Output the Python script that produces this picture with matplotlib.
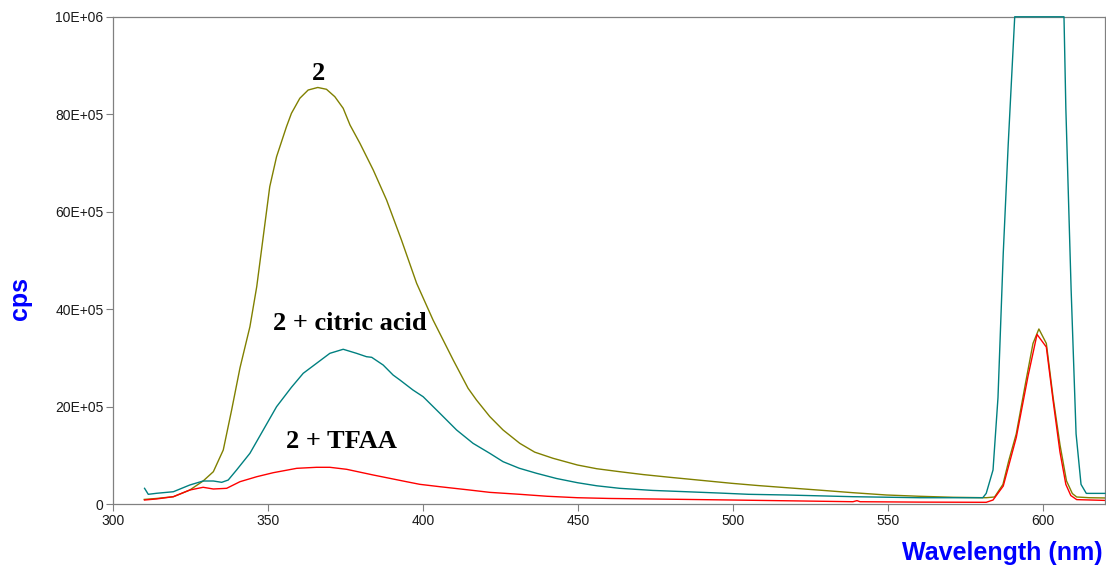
import matplotlib

matplotlib.use("Agg")
import matplotlib.pyplot as plt

# emission spectra (wavelength in nm, intensity in cps)
wl_2 = [310, 314, 319.4, 324.7, 329, 332.3, 335.5, 338.2, 340.9, 344.1, 346.3, 348.4,
        350.5, 352.7, 355.9, 357.5, 360.2, 362.9, 366.0, 368.8, 371.5, 374.2, 376.4,
        379.6, 383.9, 388.2, 393.0, 397.9, 403.2, 409.7, 414.5, 417.2, 421.5, 425.8,
        431.2, 436, 441.9, 449.8, 456, 463.4, 471, 479.6, 490, 499.5, 508, 517.2, 528,
        538.7, 549.5, 560, 571, 581.7, 584.4, 587.1, 589, 591.4, 594.6, 596.8, 598.7,
        601.1, 603.3, 605.5, 607.6, 609.5, 610.9, 615, 620]
cps_2 = [10000, 12000, 15600, 29300, 47800, 66900, 111400, 193400, 280000, 364300,
         446400, 549000, 651500, 713000, 774600, 802000, 832800, 849800, 855000, 851300,
         836100, 812300, 778000, 740500, 685700, 624200, 542200, 453300, 378000, 296000,
         238000, 214000, 180000, 152400, 125000, 107000, 94400, 80600, 73000, 66900,
         61000, 55400, 49000, 43100, 38500, 34100, 29000, 23800, 19100, 16500, 14400,
         13500, 15000, 40800, 90000, 144600, 255800, 330000, 359600, 330000, 218700,
         122400, 48200, 22000, 15000, 13500, 13000]

wl_citric = [310.1, 311.3, 314, 319.4, 324.7, 329, 332.3, 335, 337.1, 339.8, 344.1,
             348.4, 352.7, 357.5, 361.3, 365.6, 369.9, 374.2, 378.5, 381.7, 383.4,
             387.1, 390.3, 392.5, 396.7, 400, 405.4, 410.8, 416.1, 421.5, 425.8, 431,
             436.6, 443, 449.8, 456, 463.4, 474, 484.9, 496, 505, 517.2, 538.7, 560.2,
             580.6, 581.7, 583.9, 585.5, 587.2, 588.8, 590.9, 606.8, 607.4, 609.1,
             610.7, 612.3, 614, 620]
cps_citric = [32800, 20500, 22600, 25800, 39600, 47800, 47800, 45100, 49800, 70400,
              104600, 152400, 200200, 240000, 268700, 289200, 309700, 318000, 309700,
              302800, 301500, 285700, 265200, 255000, 234500, 220700, 186700, 152400,
              125100, 104600, 87400, 74000, 63600, 53000, 44300, 38000, 32800, 28500,
              25800, 23000, 20500, 19100, 15600, 13500, 13500, 22400, 70400, 218700,
              515000, 738000, 1000000, 1000000, 812000, 441000, 144600, 40800, 22400,
              22400]

wl_tfaa = [310.1, 314, 319.4, 324.7, 329, 332.3, 336.6, 340.9, 346.3, 351.6, 359.2,
           365.6, 369.9, 375.3, 383.9, 394.6, 398.9, 405.4, 415, 421.5, 431.2, 440,
           449.8, 460, 474.2, 499.5, 520, 538.7, 540, 541, 560, 581.7, 583.9, 587.2,
           591.4, 595.2, 598.1, 601.1, 603.3, 605.5, 607.4, 609, 610.9, 620]
cps_tfaa = [8800, 11000, 15600, 29300, 34900, 31400, 32800, 46400, 56600, 64800, 73800,
            75900, 75900, 71800, 60100, 46400, 41000, 36100, 29300, 24500, 20500, 16500,
            13500, 12000, 10900, 8800, 7000, 5300, 7500, 5300, 4500, 4100, 8800, 37500,
            137000, 263000, 348500, 322600, 212000, 107300, 40800, 18000, 9600, 8000]

x_ticks = [300, 350, 400, 450, 500, 550, 600]
y_ticks = [0, 200000, 400000, 600000, 800000, 1000000]
y_tick_labels = ["0", "20E+05", "40E+05", "60E+05", "80E+05", "10E+06"]

spine_gray = "#808080"
label_blue = "#0000FF"

plt.rcParams["font.family"] = ["Liberation Sans", "DejaVu Sans"]

fig = plt.figure(figsize=(11.06, 5.69), dpi=100)
ax = fig.add_axes([0.1024, 0.1137, 0.8966, 0.8568])

ax.plot(wl_2, cps_2, color="#808000", linewidth=1.0)
# the saturated citric-acid trace runs along the top frame, so draw it over the spine
ax.plot(wl_citric, cps_citric, color="#008080", linewidth=1.0, clip_on=False, zorder=3)
ax.plot(wl_tfaa, cps_tfaa, color="#FF0000", linewidth=1.0)

ax.set_xlim(300, 620)
ax.set_ylim(0, 1000000)
ax.set_xticks(x_ticks)
ax.set_yticks(y_ticks, y_tick_labels)
ax.tick_params(direction="out", length=5, width=0.8, color=spine_gray,
               labelsize=10, labelcolor="#1a1a1a", pad=2)
for spine in ax.spines.values():
    spine.set_color(spine_gray)
    spine.set_linewidth(0.9)

serif = {"family": ["Liberation Serif", "DejaVu Serif"], "weight": "bold", "size": 19}
ax.text(366.2, 869700, "2", ha="center", va="baseline", fontdict=serif)
ax.text(376.4, 357500, "2 + citric acid", ha="center", va="baseline", fontdict=serif)
ax.text(373.5, 115500, "2 + TFAA", ha="center", va="baseline", fontdict=serif)

fig.text(20 / 1106, 1 - 299 / 569, "cps", rotation=90, ha="center", va="center",
         color=label_blue, fontsize=18, fontweight="bold")
fig.text(1103 / 1106, 1 - 553 / 569, "Wavelength (nm)", ha="right", va="center",
         color=label_blue, fontsize=18, fontweight="bold")

fig.savefig("out.png", dpi=100)
